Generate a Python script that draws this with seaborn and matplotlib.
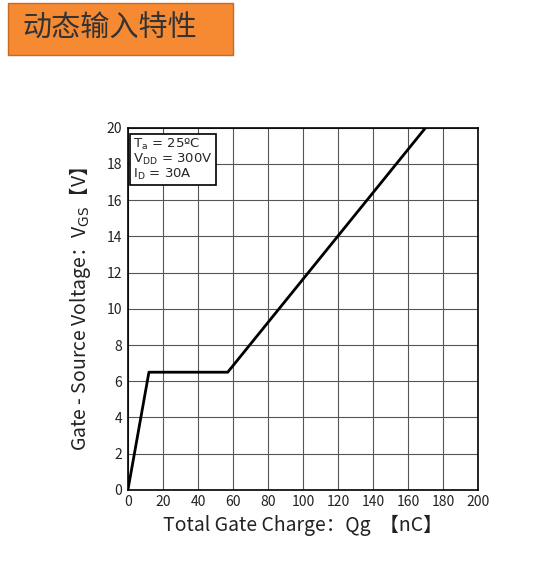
import numpy as np
import pandas as pd
import matplotlib.pyplot as plt
import seaborn as sns
from matplotlib.patches import Rectangle

# gate charge curve (nC, V)
qg = [0, 12, 57, 170]
vgs = [0, 6.5, 6.5, 20]
x_ticks = list(range(0, 201, 20))
y_ticks = list(range(0, 21, 2))
title = '动态输入特性'

sns.set_style('white')
plt.rcParams['font.family'] = ['Noto Sans CJK SC', 'DejaVu Sans']

fig = plt.figure(figsize=(5.33, 5.86), dpi=100)
ax = fig.add_axes([0.240, 0.164, 0.657, 0.618])

df = pd.DataFrame({'qg': qg, 'vgs': vgs})
sns.lineplot(data=df, x='qg', y='vgs', color='black', lw=2, ax=ax, sort=False)

ax.set_xlim(0, 200)
ax.set_ylim(0, 20)
ax.set_xticks(x_ticks)
ax.set_yticks(y_ticks)
ax.grid(True, color='#555555', lw=0.8)
for s in ax.spines.values():
    s.set_color('black')
    s.set_linewidth(1.2)
ax.tick_params(labelsize=10, colors='#222222', length=0, pad=4)
ax.set_xlabel('Total Gate Charge：Qg  【nC】', fontsize=14, color='#222222')
ax.set_ylabel('Gate - Source Voltage：V$_{\\mathrm{GS}}$【V】', fontsize=14,
              color='#222222', labelpad=10)

ax.text(3, 19.5, 'T$_\\mathrm{a}$ = 25ºC\nV$_\\mathrm{DD}$ = 300V\nI$_\\mathrm{D}$ = 30A',
        fontsize=9.5, va='top', ha='left', linespacing=1.0, family='DejaVu Sans',
        bbox=dict(facecolor='white', edgecolor='black', lw=1.2, pad=2))

fig.patches.append(Rectangle((8 / 533, 1 - 55 / 586), 225 / 533, 52 / 586,
                             transform=fig.transFigure, facecolor='#F58A33',
                             edgecolor='#C86A20', lw=1))
fig.text(22 / 533, 1 - 29 / 586, title, fontsize=21, color='#333333', va='center')

fig.savefig('out.png', dpi=100)
